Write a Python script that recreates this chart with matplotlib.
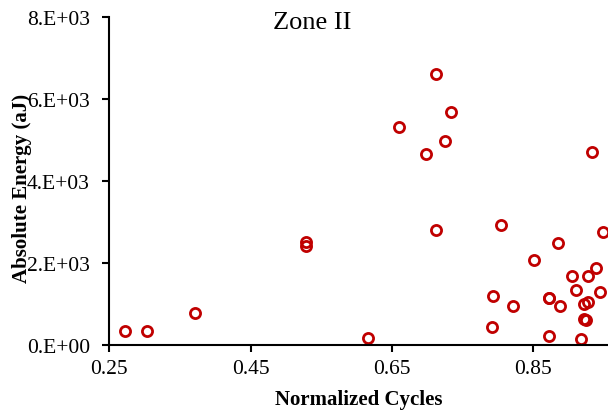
import matplotlib
matplotlib.use('Agg')
import matplotlib.pyplot as plt
from matplotlib.ticker import FuncFormatter

# Zone II data
cycles = [0.272, 0.303, 0.371, 0.528, 0.528, 0.616, 0.660, 0.698, 0.712, 0.712,
          0.725, 0.734, 0.791, 0.793, 0.804, 0.821, 0.851, 0.872, 0.872, 0.872,
          0.885, 0.888, 0.905, 0.910, 0.917, 0.922, 0.924, 0.922, 0.927, 0.927,
          0.933, 0.939, 0.944, 0.949]
energy = [342, 327, 774, 2520, 2400, 164, 5318, 4666, 6621, 2809,
          4984, 5692, 440, 1182, 2932, 953, 2062, 1148, 1150, 220,
          2485, 953, 1671, 1336, 139, 1002, 603, 628, 1043, 1671,
          4715, 1866, 1287, 2746]

xticks = [0.25, 0.45, 0.65, 0.85]
yticks = [0, 2000, 4000, 6000, 8000]

plt.rcParams['font.family'] = 'Liberation Serif'

fig = plt.figure(figsize=(6.08, 4.14), dpi=100)
ax = fig.add_axes([0.1798, 0.165, 1 - 0.1798, 0.791])

ax.plot(cycles, energy, linestyle='none', marker='o', markersize=7.3,
        markerfacecolor='none', markeredgecolor='#C00000', markeredgewidth=2)

ax.set_xlim(0.25, 0.9554)
ax.set_ylim(0, 8000)
ax.set_xticks(xticks)
ax.set_xticklabels([f'{t:.2f}' for t in xticks])
ax.set_yticks(yticks)


def sci(v, pos):
    if v == 0:
        return '0.E+00'
    e = len(str(int(v))) - 1
    return f'{int(v / 10 ** e)}.E+{e:02d}'


ax.yaxis.set_major_formatter(FuncFormatter(sci))

for s in ['top', 'right']:
    ax.spines[s].set_visible(False)
for s in ['left', 'bottom']:
    ax.spines[s].set_linewidth(1.5)

ax.tick_params(axis='both', direction='out', length=5, width=1.5, labelsize=15.5)
ax.tick_params(axis='y', pad=9)
ax.tick_params(axis='x', pad=5)

ax.set_xlabel('Normalized Cycles', fontsize=15, fontweight='bold', labelpad=8.5)
ax.set_ylabel('Absolute Energy (aJ)', fontsize=15, fontweight='bold')
ax.yaxis.set_label_coords(-0.156, 0.479)

ax.text(0.406, 0.985, 'Zone II', transform=ax.transAxes, fontsize=19,
        ha='center', va='center')

fig.savefig('out.png', dpi=100)
